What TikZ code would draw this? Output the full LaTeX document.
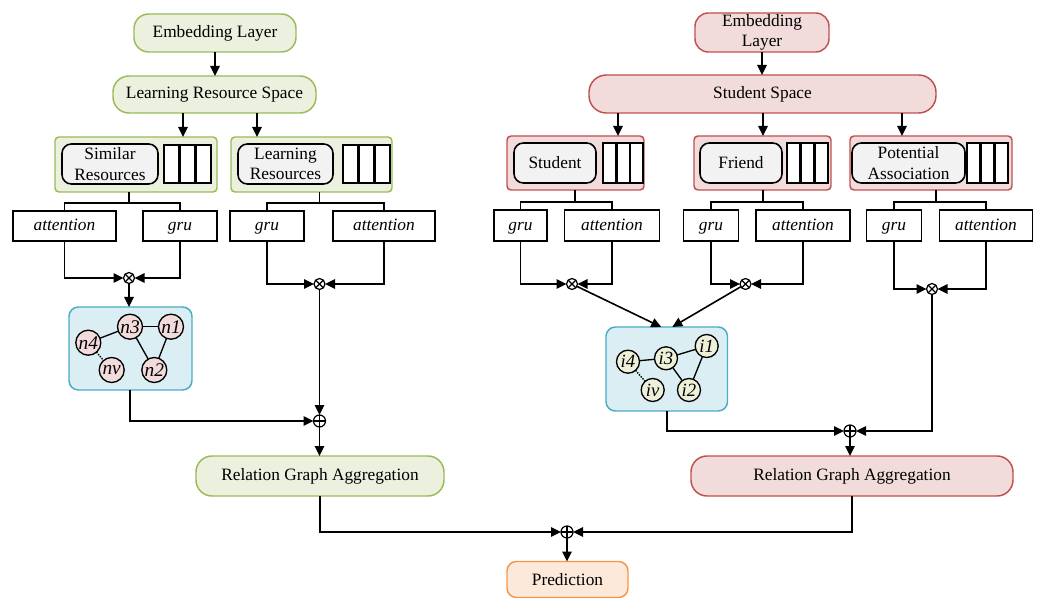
\documentclass[tikz,border=0pt]{standalone}
\usepackage{fontspec}
\setmainfont{Liberation Serif}
\usetikzlibrary{arrows.meta,calc}
\definecolor{gfill}{HTML}{EBF1DE}
\definecolor{gline}{HTML}{9BBB59}
\definecolor{rfill}{HTML}{F2DCDB}
\definecolor{rline}{HTML}{C0504D}
\definecolor{bfill}{HTML}{DAEEF3}
\definecolor{bline}{HTML}{4BACC6}
\definecolor{ofill}{HTML}{FDE9D9}
\definecolor{oline}{HTML}{F79646}
\definecolor{ifill}{HTML}{F2F2F2}
\definecolor{yfill}{HTML}{EEF0DA}
\begin{document}
\begin{tikzpicture}[x=0.75pt,y=-0.75pt,
  font=\fontsize{13}{15.5}\selectfont,
  every node/.style={inner sep=0pt,outer sep=0pt},
  sz/.style 2 args={minimum width=#1*0.75pt,minimum height=#2*0.75pt},
  gpill/.style={draw=gline,fill=gfill,line width=1.1pt,rounded corners=11pt},
  rpill/.style={draw=rline,fill=rfill,line width=1.1pt,rounded corners=11pt},
  ggroup/.style={draw=gline,fill=gfill,line width=1.1pt,rounded corners=3pt},
  rgroup/.style={draw=rline,fill=rfill,line width=1.1pt,rounded corners=3pt},
  inbox/.style={draw,fill=ifill,line width=1.2pt,rounded corners=7pt,align=center},
  bar/.style={draw,fill=white,line width=1.2pt},
  opbox/.style={draw,fill=white,line width=1.1pt,text height=9.5pt,text depth=2pt,
    font=\fontsize{13}{15.5}\selectfont\itshape},
  bbox/.style={draw=bline,fill=bfill,line width=1.1pt,rounded corners=7pt},
  ln/.style={line width=1.2pt},
  arr/.style={line width=1.2pt,-{Triangle[length=7.5pt,width=7pt]}},
  otim/.style={circle,draw,fill=white,line width=0.9pt,minimum size=11*0.75pt,
    path picture={\draw[line width=0.9pt] (path picture bounding box.north west) -- (path picture bounding box.south east)
      (path picture bounding box.north east) -- (path picture bounding box.south west);}},
  oplu/.style={circle,draw,fill=white,line width=0.9pt,minimum size=12*0.75pt,
    path picture={\draw[line width=0.9pt] (path picture bounding box.north) -- (path picture bounding box.south)
      (path picture bounding box.east) -- (path picture bounding box.west);}},
  pn/.style={circle,draw,fill=rfill,line width=1pt,minimum size=25*0.75pt,font=\fontsize{14.5}{15}\selectfont\itshape},
  yn/.style={circle,draw,fill=yfill,line width=1pt,minimum size=23*0.75pt,font=\fontsize{14}{15}\selectfont\itshape},
  ge/.style={line width=1pt},
  gd/.style={line width=1pt,densely dotted}
]
\useasboundingbox (0,0) rectangle (1040,599);

% ================= LEFT =================
\node[gpill,sz={162}{38}] (emb1) at (215,33) {Embedding Layer};
\node[gpill,sz={203}{37},rounded corners=12pt] (lrs) at (214.5,94.5) {Learning Resource Space};
\draw[arr] (emb1.south) -- (emb1.south |- lrs.north);

\node[ggroup,sz={162}{55}] (simg) at (136,164.5) {};
\node[inbox,sz={96}{40}] (sim) at (110,164) {Similar\\Resources};
\foreach \x in {164,180,196} \draw[bar] (\x,145) rectangle ++(15,38);
\node[ggroup,sz={161}{55}] (lrg) at (311.5,164.5) {};
\node[inbox,sz={95}{40}] (lr) at (285.5,164) {Learning\\Resources};
\foreach \x in {343,359,375} \draw[bar] (\x,145) rectangle ++(15,38);

\coordinate (a1) at (183,0);
\coordinate (a2) at (257,0);
\draw[arr] (lrs.south -| a1) -- (simg.north -| a1);
\draw[arr] (lrs.south -| a2) -- (lrg.north -| a2);

% branch 1
\coordinate (j1) at (129,203);
\node[opbox,sz={103}{30}] (att1) at (64.5,226) {attention};
\node[opbox,sz={74}{30}] (gru1) at (180,226) {gru};
\draw[ln] (simg.south -| j1) -- (j1);
\draw[ln] (att1.north) |- (j1) -| (gru1.north);
\node[otim] (x1) at (129,278) {};
\draw[arr] (att1.south) |- (x1.west);
\draw[arr] (gru1.south) |- (x1.east);

% branch 2
\coordinate (j2) at (319.5,203);
\node[opbox,sz={74}{30}] (gru2) at (267,226) {gru};
\node[opbox,sz={102}{30}] (att2) at (384,226) {attention};
\draw[ln] (lrg.south -| j2) -- (j2);
\draw[ln] (gru2.north) |- (j2) -| (att2.north);
\node[otim] (x2) at (319.5,284) {};
\draw[arr] (gru2.south) |- (x2.west);
\draw[arr] (att2.south) |- (x2.east);

% graph 1
\node[bbox,sz={123}{83}] (g1) at (130.5,348.5) {};
\draw[arr] (x1.south) -- (x1.south |- g1.north);
\node[pn] (n3) at (130,326.7) {n3};
\node[pn] (n1) at (171,326.7) {n1};
\node[pn] (n4) at (88.3,342.7) {n4};
\node[pn] (nv) at (111.7,370) {nv};
\node[pn] (n2) at (154.3,370) {n2};
\draw[ge] (n4) -- (n3);
\draw[ge] (n3) -- (n1);
\draw[ge] (n3) -- (n2);
\draw[ge] (n1) -- (n2);
\draw[gd] (n4) -- (nv);

\node[oplu] (p1) at (319.5,421) {};
\draw[arr] (x2.south) -- (p1.north);
\draw[arr] (g1.south -| n3) |- (p1.west);

\node[gpill,sz={248}{40},rounded corners=12pt] (rga1) at (320,476) {Relation Graph Aggregation};
\draw[arr] (p1.south) -- (p1.south |- rga1.north);

% ================= RIGHT =================
\node[rpill,sz={134}{39},align=center,rounded corners=10pt] (emb2) at (762,32.5) {Embedding\\Layer};
\node[rpill,sz={347}{38},rounded corners=13pt] (ss) at (762.5,94) {Student Space};
\draw[arr] (emb2.south) -- (emb2.south |- ss.north);

\node[rgroup,sz={137}{54}] (stug) at (575.5,163) {};
\node[inbox,sz={82}{40}] (stu) at (555,163) {Student};
\foreach \x in {603,617,630} \draw[bar] (\x,143) rectangle ++(13,40);
\node[rgroup,sz={137}{54}] (frg) at (762.5,163) {};
\node[inbox,sz={82}{40}] (fr) at (741,163) {Friend};
\foreach \x in {787,801,815} \draw[bar] (\x,143) rectangle ++(13,40);
\node[rgroup,sz={162}{54}] (pag) at (931,163) {};
\node[inbox,sz={113}{40}] (pa) at (908.5,163) {Potential\\Association};
\foreach \x in {967,981,995} \draw[bar] (\x,143) rectangle ++(13,40);

\coordinate (b1) at (618,0);
\coordinate (b2) at (763,0);
\coordinate (b3) at (902,0);
\draw[arr] (ss.south -| b1) -- (stug.north -| b1);
\draw[arr] (ss.south -| b2) -- (frg.north -| b2);
\draw[arr] (ss.south -| b3) -- (pag.north -| b3);

% student branch
\coordinate (j3) at (575,202);
\node[opbox,sz={53}{31}] (gru3) at (520.5,225.5) {gru};
\node[opbox,sz={94.5}{31}] (att3) at (612,225.5) {attention};
\draw[ln] (stug.south -| j3) -- (j3);
\draw[ln] (gru3.north) |- (j3) -| (att3.north);
\node[otim] (x3) at (572,284) {};
\draw[arr] (gru3.south) |- (x3.west);
\draw[arr] (att3.south) |- (x3.east);

% friend branch
\coordinate (j4) at (763,202);
\node[opbox,sz={54.5}{31}] (gru4) at (711,225.5) {gru};
\node[opbox,sz={94}{31}] (att4) at (803,225.5) {attention};
\draw[ln] (frg.south -| j4) -- (j4);
\draw[ln] (gru4.north) |- (j4) -| (att4.north);
\node[otim] (x4) at (745.5,284) {};
\draw[arr] (gru4.south) |- (x4.west);
\draw[arr] (att4.south) |- (x4.east);

% potential association branch
\coordinate (j5) at (936,202);
\node[opbox,sz={54.5}{31}] (gru5) at (894,225.5) {gru};
\node[opbox,sz={93.5}{31}] (att5) at (986,225.5) {attention};
\draw[ln] (pag.south -| j5) -- (j5);
\draw[ln] (gru5.north) |- (j5) -| (att5.north);
\node[otim] (x5) at (932,289) {};
\draw[arr] (gru5.south) |- (x5.west);
\draw[arr] (att5.south) |- (x5.east);

% graph 2
\node[bbox,sz={121.5}{84}] (g2) at (666.75,369) {};
\draw[arr] (x3) -- ($(g2.north)+(-5.5,0)$);
\draw[arr] (x4) -- ($(g2.north)+(5.5,0)$);
\node[yn] (i3) at (666,358.3) {i3};
\node[yn] (i1) at (706.7,346) {i1};
\node[yn] (i4) at (628,361.7) {i4};
\node[yn] (iv) at (652.7,390) {iv};
\node[yn] (i2) at (689,390) {i2};
\draw[ge] (i4) -- (i3);
\draw[ge] (i3) -- (i1);
\draw[ge] (i3) -- (i2);
\draw[ge] (i1) -- (i2);
\draw[gd] (i4) -- (iv);

\node[oplu] (p2) at (850,431) {};
\draw[arr] (g2.south) |- (p2.west);
\draw[arr] (x5.south) |- (p2.east);

\node[rpill,sz={322}{40},rounded corners=12pt] (rga2) at (852,476) {Relation Graph Aggregation};
\draw[arr] (p2.south) -- (p2.south |- rga2.north);

% ================= BOTTOM =================
\node[oplu] (p3) at (567,532) {};
\draw[arr] (rga1.south) |- (p3.west);
\draw[arr] (rga2.south) |- (p3.east);
\node[draw=oline,fill=ofill,line width=1.1pt,rounded corners=7pt,sz={121}{36}] (pred) at (567.5,579.5) {Prediction};
\draw[arr] (p3.south) -- (p3.south |- pred.north);
\end{tikzpicture}
\end{document}
